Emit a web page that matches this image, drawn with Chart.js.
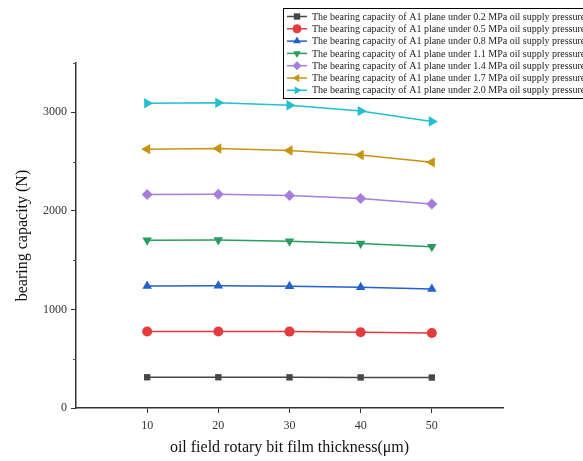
<!DOCTYPE html>
<html><head><meta charset="utf-8">
<script src="https://cdn.jsdelivr.net/npm/chart.js@4/dist/chart.umd.min.js"></script>
<style>html,body{margin:0;padding:0;background:#fff}#wrap{width:583px;height:461px;position:relative}</style>
</head><body><div id="wrap"><canvas id="c" width="583" height="461"></canvas></div>
<script>
const thickness = [10, 20, 30, 40, 50];
const p02 = [312, 312, 311, 310, 309];
const p05 = [776, 776, 775, 768, 760];
const p08 = [1238, 1240, 1236, 1225, 1208];
const p11 = [1702, 1704, 1692, 1668, 1635];
const p14 = [2167, 2168, 2155, 2126, 2070];
const p17 = [2626, 2632, 2612, 2567, 2492];
const p20 = [3092, 3096, 3072, 3012, 2906];
const seriesLabels = [
  'The bearing capacity of A1 plane under 0.2 MPa oil supply pressure',
  'The bearing capacity of A1 plane under 0.5 MPa oil supply pressure',
  'The bearing capacity of A1 plane under 0.8 MPa oil supply pressure',
  'The bearing capacity of A1 plane under 1.1 MPa oil supply pressure',
  'The bearing capacity of A1 plane under 1.4 MPa oil supply pressure',
  'The bearing capacity of A1 plane under 1.7 MPa oil supply pressure',
  'The bearing capacity of A1 plane under 2.0 MPa oil supply pressure'
];
const yTickLabels = [0, 1000, 2000, 3000];
const yMinorTicks = [500, 1500, 2500, 3500];
const xTickLabels = [10, 20, 30, 40, 50];

const series = [p02, p05, p08, p11, p14, p17, p20];
const colors = ['#474747', '#e53b3d', '#2162cc', '#2a9d5e', '#a77ddb', '#c7940f', '#21bfcf'];
const styles = ['rect', 'circle', 'triangle', 'triangle', 'rectRot', 'triangle', 'triangle'];
const rots = [0, 0, 0, 180, 0, -90, 90];
const radii = [4.5, 5, 5.5, 5.5, 5.5, 6, 6];

const datasets = series.map((s, i) => ({
  label: seriesLabels[i],
  data: thickness.map((x, j) => ({x: x, y: s[j]})),
  borderColor: colors[i],
  backgroundColor: colors[i],
  borderWidth: 1.5,
  pointStyle: styles[i],
  rotation: rots[i],
  pointRadius: radii[i],
  pointBorderWidth: 0,
  tension: 0
}));

const SERIF = '"Liberation Serif", "DejaVu Serif", serif';

const legendPlugin = {
  id: 'customLegend',
  afterDraw(chart) {
    const ctx = chart.ctx;
    ctx.save();
    const bx = 283, by = 8, bw = 310, bh = 90;
    ctx.fillStyle = '#fff';
    ctx.fillRect(bx, by, bw, bh);
    ctx.strokeStyle = '#000';
    ctx.lineWidth = 1;
    ctx.strokeRect(bx + 0.5, by + 0.5, bw, bh);
    ctx.font = '10px ' + SERIF;
    ctx.textBaseline = 'middle';
    chart.data.datasets.forEach((ds, i) => {
      const y = by + 8.5 + i * 12.3;
      ctx.strokeStyle = ds.borderColor;
      ctx.lineWidth = 1.5;
      ctx.beginPath(); ctx.moveTo(bx + 4, y); ctx.lineTo(bx + 24, y); ctx.stroke();
      ctx.fillStyle = ds.backgroundColor;
      Chart.helpers.drawPoint(ctx, {pointStyle: ds.pointStyle, rotation: ds.rotation, radius: 4.5, borderWidth: 0}, bx + 14, y);
      ctx.fillStyle = '#222';
      ctx.fillText(ds.label, bx + 29, y + 0.5);
    });
    ctx.restore();
  }
};

const minorPlugin = {
  id: 'minorTicks',
  afterDraw(chart) {
    const ctx = chart.ctx, ys = chart.scales.y;
    ctx.save();
    ctx.strokeStyle = '#555';
    ctx.lineWidth = 1;
    yMinorTicks.forEach(v => {
      const p = Math.round(ys.getPixelForValue(v)) + 0.5;
      ctx.beginPath(); ctx.moveTo(ys.right - 3, p); ctx.lineTo(ys.right, p); ctx.stroke();
    });
    ctx.restore();
  }
};

new Chart(document.getElementById('c'), {
  type: 'line',
  data: {datasets: datasets},
  options: {
    responsive: false,
    animation: false,
    layout: {padding: {top: 63, right: 80, left: 0, bottom: 0}},
    plugins: {legend: {display: false}, tooltip: {enabled: false}},
    scales: {
      x: {
        type: 'linear', min: 0, max: 60,
        afterFit: s => { s.height = 53; },
        ticks: {
          stepSize: 10, color: '#333', padding: 6, autoSkip: false,
          font: {family: SERIF, size: 12},
          callback: v => xTickLabels.includes(v) ? String(v) : ''
        },
        grid: {
          drawOnChartArea: false, drawTicks: true, tickLength: 5,
          tickColor: c => (c.tick && xTickLabels.includes(c.tick.value)) ? '#333' : 'rgba(0,0,0,0)'
        },
        border: {display: true, color: '#333', width: 1.5},
        title: {display: true, text: 'oil field rotary bit film thickness(\u03bcm)', color: '#111',
          font: {family: SERIF, size: 16}, padding: {top: 3}}
      },
      y: {
        type: 'linear', min: 0, max: 3500,
        afterFit: s => { s.width = 76; },
        afterBuildTicks: s => { s.ticks = yTickLabels.map(v => ({value: v})); },
        ticks: {
          color: '#333', padding: 4, autoSkip: false,
          font: {family: SERIF, size: 12},
          callback: v => String(v)
        },
        grid: {drawOnChartArea: false, drawTicks: true, tickLength: 5, tickColor: '#333'},
        border: {display: true, color: '#333', width: 1.5},
        title: {display: true, text: 'bearing capacity (N)', color: '#111',
          font: {family: SERIF, size: 16}, padding: {top: 13, bottom: 0}}
      }
    }
  },
  plugins: [minorPlugin, legendPlugin]
});
</script></body></html>
